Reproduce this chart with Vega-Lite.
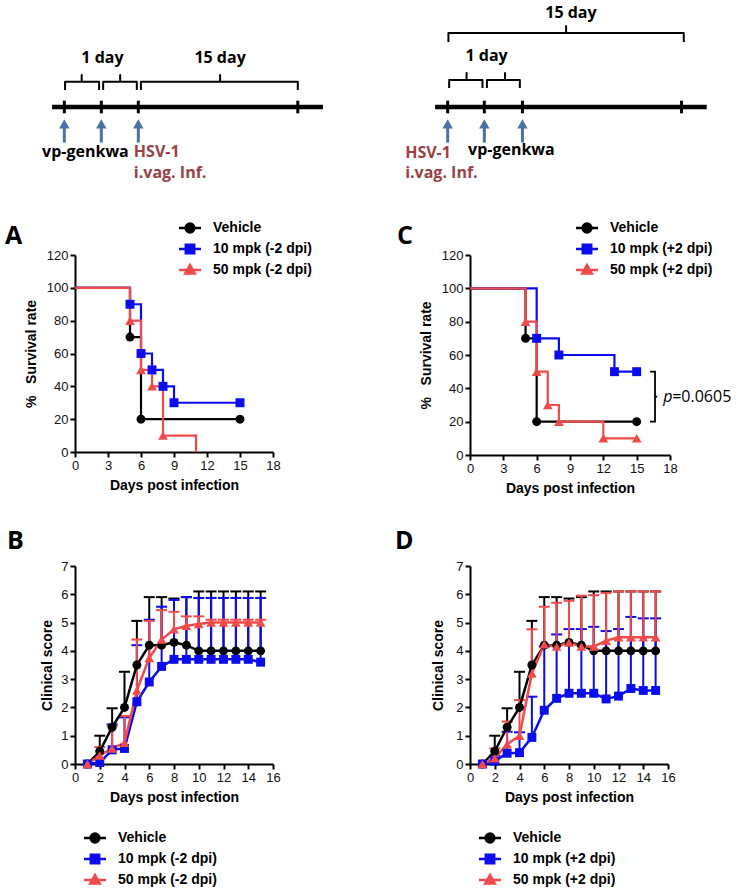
{
"$schema": "https://vega.github.io/schema/vega-lite/v6.json",
"background": "white",
"padding": {"left": 5, "top": 0, "right": 0, "bottom": 0},
"columns": 2,
"spacing": {"row": 111, "column": 197},
"bounds": "flush",
"align": "each",
"resolve": {"scale": {"fill": "independent", "stroke": "independent", "shape": "independent"}, "legend": {"fill": "independent", "stroke": "independent", "shape": "independent"}},
"datasets": {
"tl": [
{"side":"L","k":"main","x":-0.33,"x2":6.99,"y":2.57},
{"side":"L","k":"tick","x":0,"y":2.13,"y2":3.01},
{"side":"L","k":"tick","x":1,"y":2.13,"y2":3.01},
{"side":"L","k":"tick","x":2,"y":2.13,"y2":3.01},
{"side":"L","k":"tick","x":6.31,"y":2.13,"y2":3.01},
{"side":"L","k":"arrow","x":0,"y":0.1,"y2":1.4},
{"side":"L","k":"arrow","x":1,"y":0.1,"y2":1.4},
{"side":"L","k":"arrow","x":2,"y":0.1,"y2":1.4},
{"side":"R","k":"main","x":-0.34,"x2":7.0,"y":2.57},
{"side":"R","k":"tick","x":0,"y":2.13,"y2":3.01},
{"side":"R","k":"tick","x":0.99,"y":2.13,"y2":3.01},
{"side":"R","k":"tick","x":2.02,"y":2.13,"y2":3.01},
{"side":"R","k":"tick","x":6.32,"y":2.13,"y2":3.01},
{"side":"R","k":"arrow","x":0,"y":0.1,"y2":1.4},
{"side":"R","k":"arrow","x":0.99,"y":0.1,"y2":1.4},
{"side":"R","k":"arrow","x":2.02,"y":0.1,"y2":1.4}
],
"br": [
{"side":"L","b":1,"o":1,"x":0.02,"y":3.75},{"side":"L","b":1,"o":2,"x":0.02,"y":4.33},{"side":"L","b":1,"o":3,"x":0.47,"y":4.33},{"side":"L","b":1,"o":4,"x":0.47,"y":4.79},{"side":"L","b":1,"o":5,"x":0.47,"y":4.33},{"side":"L","b":1,"o":6,"x":0.94,"y":4.33},{"side":"L","b":1,"o":7,"x":0.94,"y":3.75},
{"side":"L","b":2,"o":1,"x":1.05,"y":3.75},{"side":"L","b":2,"o":2,"x":1.05,"y":4.33},{"side":"L","b":2,"o":3,"x":1.51,"y":4.33},{"side":"L","b":2,"o":4,"x":1.51,"y":4.79},{"side":"L","b":2,"o":5,"x":1.51,"y":4.33},{"side":"L","b":2,"o":6,"x":1.96,"y":4.33},{"side":"L","b":2,"o":7,"x":1.96,"y":3.75},
{"side":"L","b":3,"o":1,"x":2.07,"y":3.75},{"side":"L","b":3,"o":2,"x":2.07,"y":4.33},{"side":"L","b":3,"o":3,"x":4.21,"y":4.33},{"side":"L","b":3,"o":4,"x":4.21,"y":4.79},{"side":"L","b":3,"o":5,"x":4.21,"y":4.33},{"side":"L","b":3,"o":6,"x":6.31,"y":4.33},{"side":"L","b":3,"o":7,"x":6.31,"y":3.75},
{"side":"R","b":1,"o":1,"x":0.04,"y":3.89},{"side":"R","b":1,"o":2,"x":0.04,"y":4.44},{"side":"R","b":1,"o":3,"x":0.51,"y":4.44},{"side":"R","b":1,"o":4,"x":0.51,"y":4.93},{"side":"R","b":1,"o":5,"x":0.51,"y":4.44},{"side":"R","b":1,"o":6,"x":0.94,"y":4.44},{"side":"R","b":1,"o":7,"x":0.94,"y":3.89},
{"side":"R","b":2,"o":1,"x":1.06,"y":3.89},{"side":"R","b":2,"o":2,"x":1.06,"y":4.44},{"side":"R","b":2,"o":3,"x":1.55,"y":4.44},{"side":"R","b":2,"o":4,"x":1.55,"y":4.93},{"side":"R","b":2,"o":5,"x":1.55,"y":4.44},{"side":"R","b":2,"o":6,"x":1.95,"y":4.44},{"side":"R","b":2,"o":7,"x":1.95,"y":3.89},
{"side":"R","b":3,"o":1,"x":0.02,"y":7.08},{"side":"R","b":3,"o":2,"x":0.02,"y":7.71},{"side":"R","b":3,"o":3,"x":3.2,"y":7.71},{"side":"R","b":3,"o":4,"x":3.2,"y":8.19},{"side":"R","b":3,"o":5,"x":3.2,"y":7.71},{"side":"R","b":3,"o":6,"x":6.38,"y":7.71},{"side":"R","b":3,"o":7,"x":6.38,"y":7.08}
],
"tt": [
{"side":"L","k":"span","t":"1 day","x":1.03,"y":5.97},
{"side":"L","k":"span","t":"15 day","x":4.21,"y":5.97},
{"side":"L","k":"drug","t":"vp-genkwa","x":-0.6,"y":-0.56},
{"side":"L","k":"inf","t":"HSV-1","x":1.88,"y":-0.56},
{"side":"L","k":"inf","t":"i.vag. Inf.","x":1.88,"y":-2.0},
{"side":"R","k":"span","t":"1 day","x":1.05,"y":6.11},
{"side":"R","k":"span","t":"15 day","x":3.33,"y":9.1},
{"side":"R","k":"inf","t":"HSV-1","x":-1.15,"y":-0.6},
{"side":"R","k":"inf","t":"i.vag. Inf.","x":-1.15,"y":-2.0},
{"side":"R","k":"drug","t":"vp-genkwa","x":0.55,"y":-0.45}
],
"surv": [
{"p":"A","g":"Vehicle","d":0,"s":100},{"p":"A","g":"Vehicle","d":5,"s":70},{"p":"A","g":"Vehicle","d":6,"s":20},{"p":"A","g":"Vehicle","d":15,"s":20},
{"p":"A","g":"10 mpk (-2 dpi)","d":0,"s":100},{"p":"A","g":"10 mpk (-2 dpi)","d":5,"s":90},{"p":"A","g":"10 mpk (-2 dpi)","d":6,"s":60},{"p":"A","g":"10 mpk (-2 dpi)","d":7,"s":50},{"p":"A","g":"10 mpk (-2 dpi)","d":8,"s":40},{"p":"A","g":"10 mpk (-2 dpi)","d":9,"s":30},{"p":"A","g":"10 mpk (-2 dpi)","d":15,"s":30},
{"p":"A","g":"50 mpk (-2 dpi)","d":0,"s":100},{"p":"A","g":"50 mpk (-2 dpi)","d":5,"s":80},{"p":"A","g":"50 mpk (-2 dpi)","d":6,"s":50},{"p":"A","g":"50 mpk (-2 dpi)","d":7,"s":40},{"p":"A","g":"50 mpk (-2 dpi)","d":8,"s":10},{"p":"A","g":"50 mpk (-2 dpi)","d":11,"s":0},
{"p":"C","g":"Vehicle","d":0,"s":100},{"p":"C","g":"Vehicle","d":5,"s":70},{"p":"C","g":"Vehicle","d":6,"s":20},{"p":"C","g":"Vehicle","d":15,"s":20},
{"p":"C","g":"10 mpk (+2 dpi)","d":0,"s":100},{"p":"C","g":"10 mpk (+2 dpi)","d":6,"s":70},{"p":"C","g":"10 mpk (+2 dpi)","d":8,"s":60},{"p":"C","g":"10 mpk (+2 dpi)","d":13,"s":50},{"p":"C","g":"10 mpk (+2 dpi)","d":15,"s":50},
{"p":"C","g":"50 mpk (+2 dpi)","d":0,"s":100},{"p":"C","g":"50 mpk (+2 dpi)","d":5,"s":80},{"p":"C","g":"50 mpk (+2 dpi)","d":6,"s":50},{"p":"C","g":"50 mpk (+2 dpi)","d":7,"s":30},{"p":"C","g":"50 mpk (+2 dpi)","d":8,"s":20},{"p":"C","g":"50 mpk (+2 dpi)","d":12,"s":10},{"p":"C","g":"50 mpk (+2 dpi)","d":15,"s":10}
],
"pb": [
{"p":"C","o":1,"d":16.2,"s":50},{"p":"C","o":2,"d":16.65,"s":50},{"p":"C","o":3,"d":16.65,"s":35},{"p":"C","o":4,"d":16.85,"s":35},{"p":"C","o":5,"d":16.65,"s":35},{"p":"C","o":6,"d":16.65,"s":20},{"p":"C","o":7,"d":16.2,"s":20}
],
"pt": [
{"p":"C","k":"it","t":"p","d":17.4,"s":35},
{"p":"C","k":"rm","t":"=0.0605","d":18.2,"s":35}
],
"clin": [
{"p":"B","g":"Vehicle","d":1,"m":0,"hi":0},{"p":"B","g":"Vehicle","d":2,"m":0.45,"hi":1.0},{"p":"B","g":"Vehicle","d":3,"m":1.3,"hi":1.97},{"p":"B","g":"Vehicle","d":4,"m":2.0,"hi":3.26},{"p":"B","g":"Vehicle","d":5,"m":3.5,"hi":5.06},{"p":"B","g":"Vehicle","d":6,"m":4.2,"hi":5.9},{"p":"B","g":"Vehicle","d":7,"m":4.2,"hi":5.9},{"p":"B","g":"Vehicle","d":8,"m":4.3,"hi":5.85},{"p":"B","g":"Vehicle","d":9,"m":4.2,"hi":5.9},{"p":"B","g":"Vehicle","d":10,"m":4.0,"hi":6.1},{"p":"B","g":"Vehicle","d":11,"m":4.0,"hi":6.1},{"p":"B","g":"Vehicle","d":12,"m":4.0,"hi":6.1},{"p":"B","g":"Vehicle","d":13,"m":4.0,"hi":6.1},{"p":"B","g":"Vehicle","d":14,"m":4.0,"hi":6.1},{"p":"B","g":"Vehicle","d":15,"m":4.0,"hi":6.1},
{"p":"B","g":"10 mpk (-2 dpi)","d":1,"m":0,"hi":0},{"p":"B","g":"10 mpk (-2 dpi)","d":2,"m":0.05,"hi":0.2},{"p":"B","g":"10 mpk (-2 dpi)","d":3,"m":0.5,"hi":1.4},{"p":"B","g":"10 mpk (-2 dpi)","d":4,"m":0.55,"hi":1.65},{"p":"B","g":"10 mpk (-2 dpi)","d":5,"m":2.2,"hi":4.2},{"p":"B","g":"10 mpk (-2 dpi)","d":6,"m":2.9,"hi":5.1},{"p":"B","g":"10 mpk (-2 dpi)","d":7,"m":3.45,"hi":5.56},{"p":"B","g":"10 mpk (-2 dpi)","d":8,"m":3.7,"hi":5.8},{"p":"B","g":"10 mpk (-2 dpi)","d":9,"m":3.7,"hi":5.9},{"p":"B","g":"10 mpk (-2 dpi)","d":10,"m":3.7,"hi":5.87},{"p":"B","g":"10 mpk (-2 dpi)","d":11,"m":3.7,"hi":5.87},{"p":"B","g":"10 mpk (-2 dpi)","d":12,"m":3.7,"hi":5.87},{"p":"B","g":"10 mpk (-2 dpi)","d":13,"m":3.7,"hi":5.87},{"p":"B","g":"10 mpk (-2 dpi)","d":14,"m":3.7,"hi":5.87},{"p":"B","g":"10 mpk (-2 dpi)","d":15,"m":3.6,"hi":5.87},
{"p":"B","g":"50 mpk (-2 dpi)","d":1,"m":0,"hi":0},{"p":"B","g":"50 mpk (-2 dpi)","d":2,"m":0.3,"hi":0.6},{"p":"B","g":"50 mpk (-2 dpi)","d":3,"m":0.55,"hi":1.35},{"p":"B","g":"50 mpk (-2 dpi)","d":4,"m":0.75,"hi":1.7},{"p":"B","g":"50 mpk (-2 dpi)","d":5,"m":2.6,"hi":4.4},{"p":"B","g":"50 mpk (-2 dpi)","d":6,"m":3.75,"hi":5.06},{"p":"B","g":"50 mpk (-2 dpi)","d":7,"m":4.4,"hi":5.44},{"p":"B","g":"50 mpk (-2 dpi)","d":8,"m":4.76,"hi":5.38},{"p":"B","g":"50 mpk (-2 dpi)","d":9,"m":4.89,"hi":5.22},{"p":"B","g":"50 mpk (-2 dpi)","d":10,"m":4.95,"hi":5.22},{"p":"B","g":"50 mpk (-2 dpi)","d":11,"m":5.0,"hi":5.1},{"p":"B","g":"50 mpk (-2 dpi)","d":12,"m":5.0,"hi":5.1},{"p":"B","g":"50 mpk (-2 dpi)","d":13,"m":5.0,"hi":5.1},{"p":"B","g":"50 mpk (-2 dpi)","d":14,"m":5.0,"hi":5.1},{"p":"B","g":"50 mpk (-2 dpi)","d":15,"m":5.0,"hi":5.1},
{"p":"D","g":"Vehicle","d":1,"m":0,"hi":0},{"p":"D","g":"Vehicle","d":2,"m":0.45,"hi":1.0},{"p":"D","g":"Vehicle","d":3,"m":1.3,"hi":1.97},{"p":"D","g":"Vehicle","d":4,"m":2.0,"hi":3.26},{"p":"D","g":"Vehicle","d":5,"m":3.5,"hi":5.06},{"p":"D","g":"Vehicle","d":6,"m":4.2,"hi":5.9},{"p":"D","g":"Vehicle","d":7,"m":4.2,"hi":5.9},{"p":"D","g":"Vehicle","d":8,"m":4.3,"hi":5.85},{"p":"D","g":"Vehicle","d":9,"m":4.2,"hi":5.9},{"p":"D","g":"Vehicle","d":10,"m":4.0,"hi":6.1},{"p":"D","g":"Vehicle","d":11,"m":4.0,"hi":6.1},{"p":"D","g":"Vehicle","d":12,"m":4.0,"hi":6.1},{"p":"D","g":"Vehicle","d":13,"m":4.0,"hi":6.1},{"p":"D","g":"Vehicle","d":14,"m":4.0,"hi":6.1},{"p":"D","g":"Vehicle","d":15,"m":4.0,"hi":6.1},
{"p":"D","g":"10 mpk (+2 dpi)","d":1,"m":0,"hi":0},{"p":"D","g":"10 mpk (+2 dpi)","d":2,"m":0.1,"hi":0.3},{"p":"D","g":"10 mpk (+2 dpi)","d":3,"m":0.38,"hi":1.14},{"p":"D","g":"10 mpk (+2 dpi)","d":4,"m":0.4,"hi":1.12},{"p":"D","g":"10 mpk (+2 dpi)","d":5,"m":0.94,"hi":2.38},{"p":"D","g":"10 mpk (+2 dpi)","d":6,"m":1.9,"hi":4.15},{"p":"D","g":"10 mpk (+2 dpi)","d":7,"m":2.32,"hi":4.58},{"p":"D","g":"10 mpk (+2 dpi)","d":8,"m":2.5,"hi":4.77},{"p":"D","g":"10 mpk (+2 dpi)","d":9,"m":2.5,"hi":4.77},{"p":"D","g":"10 mpk (+2 dpi)","d":10,"m":2.5,"hi":4.85},{"p":"D","g":"10 mpk (+2 dpi)","d":11,"m":2.3,"hi":4.7},{"p":"D","g":"10 mpk (+2 dpi)","d":12,"m":2.4,"hi":4.77},{"p":"D","g":"10 mpk (+2 dpi)","d":13,"m":2.67,"hi":5.2},{"p":"D","g":"10 mpk (+2 dpi)","d":14,"m":2.6,"hi":5.15},{"p":"D","g":"10 mpk (+2 dpi)","d":15,"m":2.6,"hi":5.15},
{"p":"D","g":"50 mpk (+2 dpi)","d":1,"m":0,"hi":0},{"p":"D","g":"50 mpk (+2 dpi)","d":2,"m":0.2,"hi":0.55},{"p":"D","g":"50 mpk (+2 dpi)","d":3,"m":0.7,"hi":1.5},{"p":"D","g":"50 mpk (+2 dpi)","d":4,"m":1.0,"hi":2.26},{"p":"D","g":"50 mpk (+2 dpi)","d":5,"m":3.2,"hi":4.76},{"p":"D","g":"50 mpk (+2 dpi)","d":6,"m":4.23,"hi":5.56},{"p":"D","g":"50 mpk (+2 dpi)","d":7,"m":4.15,"hi":5.7},{"p":"D","g":"50 mpk (+2 dpi)","d":8,"m":4.29,"hi":5.77},{"p":"D","g":"50 mpk (+2 dpi)","d":9,"m":4.15,"hi":5.95},{"p":"D","g":"50 mpk (+2 dpi)","d":10,"m":4.15,"hi":5.97},{"p":"D","g":"50 mpk (+2 dpi)","d":11,"m":4.36,"hi":6.05},{"p":"D","g":"50 mpk (+2 dpi)","d":12,"m":4.48,"hi":6.1},{"p":"D","g":"50 mpk (+2 dpi)","d":13,"m":4.48,"hi":6.1},{"p":"D","g":"50 mpk (+2 dpi)","d":14,"m":4.48,"hi":6.1},{"p":"D","g":"50 mpk (+2 dpi)","d":15,"m":4.48,"hi":6.1}
]
},
"concat": [
{
"width": 198, "height": 144,
"data": {"name": "tl"},
"transform": [{"filter": "datum.side=='L'"}],
"encoding": {
"x": {"field": "x", "type": "quantitative", "scale": {"domain": [0.289, 5.64], "nice": false, "zero": false}, "axis": null},
"y": {"field": "y", "type": "quantitative", "scale": {"domain": [0, 10], "nice": false, "zero": false}, "axis": null}
},
"layer": [
{"transform": [{"filter": "datum.k=='main'"}], "mark": {"type": "rule", "color": "#000000", "strokeWidth": 4.5}, "encoding": {"x2": {"field": "x2"}}},
{"transform": [{"filter": "datum.k=='tick'"}], "mark": {"type": "rule", "color": "#000000", "strokeWidth": 3}, "encoding": {"y2": {"field": "y2"}}},
{"transform": [{"filter": "datum.k=='arrow'"}], "mark": {"type": "rule", "color": "#4a71a8", "strokeWidth": 3}, "encoding": {"y2": {"field": "y2"}}},
{"transform": [{"filter": "datum.k=='arrow'"}], "mark": {"type": "point", "shape": "triangle-up", "filled": true, "size": 110, "color": "#4a71a8", "opacity": 1}, "encoding": {"y": {"field": "y2", "type": "quantitative", "scale": {"domain": [0, 10], "nice": false, "zero": false}, "axis": null}}},
{"data": {"name": "br"}, "transform": [{"filter": "datum.side=='L'"}], "mark": {"type": "line", "color": "#000000", "strokeWidth": 2, "strokeJoin": "round"}, "encoding": {"detail": {"field": "b", "type": "nominal"}, "order": {"field": "o", "type": "quantitative"}}},
{"data": {"name": "tt"}, "transform": [{"filter": "datum.side=='L' && datum.k=='span'"}], "mark": {"type": "text", "align": "center", "baseline": "middle", "font": "Open Sans", "fontSize": 16, "fontWeight": "bold", "color": "#000000"}, "encoding": {"text": {"field": "t", "type": "nominal"}}},
{"data": {"name": "tt"}, "transform": [{"filter": "datum.side=='L' && datum.k=='drug'"}], "mark": {"type": "text", "align": "left", "baseline": "middle", "font": "Open Sans", "fontSize": 16, "fontWeight": "bold", "color": "#000000"}, "encoding": {"text": {"field": "t", "type": "nominal"}}},
{"data": {"name": "tt"}, "transform": [{"filter": "datum.side=='L' && datum.k=='inf'"}], "mark": {"type": "text", "align": "left", "baseline": "middle", "font": "Open Sans", "fontSize": 16, "fontWeight": "bold", "color": "#9a4246"}, "encoding": {"text": {"field": "t", "type": "nominal"}}}
]
},
{
"width": 200, "height": 144,
"data": {"name": "tl"},
"transform": [{"filter": "datum.side=='R'"}],
"encoding": {
"x": {"field": "x", "type": "quantitative", "scale": {"domain": [0.603, 6.008], "nice": false, "zero": false}, "axis": null},
"y": {"field": "y", "type": "quantitative", "scale": {"domain": [0, 10], "nice": false, "zero": false}, "axis": null}
},
"layer": [
{"transform": [{"filter": "datum.k=='main'"}], "mark": {"type": "rule", "color": "#000000", "strokeWidth": 4.5}, "encoding": {"x2": {"field": "x2"}}},
{"transform": [{"filter": "datum.k=='tick'"}], "mark": {"type": "rule", "color": "#000000", "strokeWidth": 3}, "encoding": {"y2": {"field": "y2"}}},
{"transform": [{"filter": "datum.k=='arrow'"}], "mark": {"type": "rule", "color": "#4a71a8", "strokeWidth": 3}, "encoding": {"y2": {"field": "y2"}}},
{"transform": [{"filter": "datum.k=='arrow'"}], "mark": {"type": "point", "shape": "triangle-up", "filled": true, "size": 110, "color": "#4a71a8", "opacity": 1}, "encoding": {"y": {"field": "y2", "type": "quantitative", "scale": {"domain": [0, 10], "nice": false, "zero": false}, "axis": null}}},
{"data": {"name": "br"}, "transform": [{"filter": "datum.side=='R'"}], "mark": {"type": "line", "color": "#000000", "strokeWidth": 2, "strokeJoin": "round"}, "encoding": {"detail": {"field": "b", "type": "nominal"}, "order": {"field": "o", "type": "quantitative"}}},
{"data": {"name": "tt"}, "transform": [{"filter": "datum.side=='R' && datum.k=='span'"}], "mark": {"type": "text", "align": "center", "baseline": "middle", "font": "Open Sans", "fontSize": 16, "fontWeight": "bold", "color": "#000000"}, "encoding": {"text": {"field": "t", "type": "nominal"}}},
{"data": {"name": "tt"}, "transform": [{"filter": "datum.side=='R' && datum.k=='drug'"}], "mark": {"type": "text", "align": "left", "baseline": "middle", "font": "Open Sans", "fontSize": 16, "fontWeight": "bold", "color": "#000000"}, "encoding": {"text": {"field": "t", "type": "nominal"}}},
{"data": {"name": "tt"}, "transform": [{"filter": "datum.side=='R' && datum.k=='inf'"}], "mark": {"type": "text", "align": "left", "baseline": "middle", "font": "Open Sans", "fontSize": 16, "fontWeight": "bold", "color": "#9a4246"}, "encoding": {"text": {"field": "t", "type": "nominal"}}}
]
},
{
"width": 198, "height": 197,
"title": {"text": "A", "anchor": "start", "frame": "group", "dx": -70, "dy": 28, "offset": 0, "fontSize": 25, "font": "Open Sans", "fontWeight": "bold", "color": "#000000"},
"data": {"name": "surv"},
"transform": [{"filter": "datum.p=='A'"}],
"encoding": {
"x": {"field": "d", "type": "quantitative", "scale": {"domain": [0, 18], "nice": false, "zero": false}, "axis": {"values": [0, 3, 6, 9, 12, 15, 18], "title": "Days post infection"}},
"y": {"field": "s", "type": "quantitative", "scale": {"domain": [0, 120], "nice": false, "zero": false}, "axis": {"values": [0, 20, 40, 60, 80, 100, 120], "title": "%\u00a0\u00a0\u00a0Survival rate"}}
},
"layer": [
{"transform": [{"filter": "datum.g=='Vehicle'"}], "mark": {"type": "line", "interpolate": "step-after", "color": "#000000", "strokeWidth": 2.2}},
{"transform": [{"filter": "datum.g=='10 mpk (-2 dpi)'"}], "mark": {"type": "line", "interpolate": "step-after", "color": "#0b0bef", "strokeWidth": 2.2}},
{"transform": [{"filter": "datum.g=='50 mpk (-2 dpi)'"}], "mark": {"type": "line", "interpolate": "step-after", "color": "#f24a4a", "strokeWidth": 2.2}},
{"transform": [{"filter": "datum.g=='Vehicle' && datum.d>0 && datum.s>0"}], "mark": {"type": "point", "shape": "circle", "filled": true, "size": 80, "color": "#000000", "opacity": 1}},
{"transform": [{"filter": "datum.g=='10 mpk (-2 dpi)' && datum.d>0 && datum.s>0"}], "mark": {"type": "point", "shape": "square", "filled": true, "size": 80, "color": "#0b0bef", "opacity": 1}},
{"transform": [{"filter": "datum.g=='50 mpk (-2 dpi)' && datum.d>0 && datum.s>0"}], "mark": {"type": "point", "shape": "triangle-up", "filled": true, "size": 95, "color": "#f24a4a", "opacity": 1}},
{"transform": [{"filter": "false"}], "mark": {"type": "point", "filled": true, "opacity": 1},
"encoding": {
"fill": {"field": "g", "type": "nominal", "scale": {"domain": ["Vehicle", "10 mpk (-2 dpi)", "50 mpk (-2 dpi)"], "range": ["#000000", "#0b0bef", "#f24a4a"]}, "legend": {"title": null, "orient": "none", "legendX": 108, "legendY": -34}},
"stroke": {"field": "g", "type": "nominal", "scale": {"domain": ["Vehicle", "10 mpk (-2 dpi)", "50 mpk (-2 dpi)"], "range": ["#000000", "#0b0bef", "#f24a4a"]}, "legend": {"title": null, "orient": "none", "legendX": 108, "legendY": -34}},
"shape": {"field": "g", "type": "nominal", "scale": {"domain": ["Vehicle", "10 mpk (-2 dpi)", "50 mpk (-2 dpi)"], "range": ["M-2.75,0H2.75M1.1,0A1.1,1.1,0,1,1,-1.1,0A1.1,1.1,0,1,1,1.1,0Z", "M-2.75,0H2.75M-1.05,-1.05H1.05V1.05H-1.05Z", "M-2.75,0H2.75M0,-1.25L1.2,0.9H-1.2Z"]}, "legend": {"title": null, "orient": "none", "legendX": 108, "legendY": -34}}
}}
]
},
{
"width": 200, "height": 200,
"title": {"text": "C", "anchor": "start", "frame": "group", "dx": -73, "dy": 28, "offset": 0, "fontSize": 25, "font": "Open Sans", "fontWeight": "bold", "color": "#000000"},
"data": {"name": "surv"},
"transform": [{"filter": "datum.p=='C'"}],
"encoding": {
"x": {"field": "d", "type": "quantitative", "scale": {"domain": [0, 18], "nice": false, "zero": false}, "axis": {"values": [0, 3, 6, 9, 12, 15, 18], "title": "Days post infection"}},
"y": {"field": "s", "type": "quantitative", "scale": {"domain": [0, 120], "nice": false, "zero": false}, "axis": {"values": [0, 20, 40, 60, 80, 100, 120], "title": "%\u00a0\u00a0\u00a0Survival rate"}}
},
"layer": [
{"transform": [{"filter": "datum.g=='Vehicle'"}], "mark": {"type": "line", "interpolate": "step-after", "color": "#000000", "strokeWidth": 2.2}},
{"transform": [{"filter": "datum.g=='10 mpk (+2 dpi)'"}], "mark": {"type": "line", "interpolate": "step-after", "color": "#0b0bef", "strokeWidth": 2.2}},
{"transform": [{"filter": "datum.g=='50 mpk (+2 dpi)'"}], "mark": {"type": "line", "interpolate": "step-after", "color": "#f24a4a", "strokeWidth": 2.2}},
{"transform": [{"filter": "datum.g=='Vehicle' && datum.d>0 && datum.s>0"}], "mark": {"type": "point", "shape": "circle", "filled": true, "size": 80, "color": "#000000", "opacity": 1}},
{"transform": [{"filter": "datum.g=='10 mpk (+2 dpi)' && datum.d>0 && datum.s>0"}], "mark": {"type": "point", "shape": "square", "filled": true, "size": 80, "color": "#0b0bef", "opacity": 1}},
{"transform": [{"filter": "datum.g=='50 mpk (+2 dpi)' && datum.d>0 && datum.s>0"}], "mark": {"type": "point", "shape": "triangle-up", "filled": true, "size": 95, "color": "#f24a4a", "opacity": 1}},
{"data": {"name": "pb"}, "mark": {"type": "line", "color": "#000000", "strokeWidth": 1.8}, "encoding": {"order": {"field": "o", "type": "quantitative"}}},
{"data": {"name": "pt"}, "transform": [{"filter": "datum.k=='it'"}], "mark": {"type": "text", "align": "left", "baseline": "middle", "font": "Open Sans", "fontSize": 16, "fontStyle": "italic", "color": "#000000"}, "encoding": {"text": {"field": "t", "type": "nominal"}}},
{"data": {"name": "pt"}, "transform": [{"filter": "datum.k=='rm'"}], "mark": {"type": "text", "align": "left", "baseline": "middle", "font": "Open Sans", "fontSize": 16, "color": "#000000"}, "encoding": {"text": {"field": "t", "type": "nominal"}}},
{"transform": [{"filter": "false"}], "mark": {"type": "point", "filled": true, "opacity": 1},
"encoding": {
"fill": {"field": "g", "type": "nominal", "scale": {"domain": ["Vehicle", "10 mpk (+2 dpi)", "50 mpk (+2 dpi)"], "range": ["#000000", "#0b0bef", "#f24a4a"]}, "legend": {"title": null, "orient": "none", "legendX": 110, "legendY": -34}},
"stroke": {"field": "g", "type": "nominal", "scale": {"domain": ["Vehicle", "10 mpk (+2 dpi)", "50 mpk (+2 dpi)"], "range": ["#000000", "#0b0bef", "#f24a4a"]}, "legend": {"title": null, "orient": "none", "legendX": 110, "legendY": -34}},
"shape": {"field": "g", "type": "nominal", "scale": {"domain": ["Vehicle", "10 mpk (+2 dpi)", "50 mpk (+2 dpi)"], "range": ["M-2.75,0H2.75M1.1,0A1.1,1.1,0,1,1,-1.1,0A1.1,1.1,0,1,1,1.1,0Z", "M-2.75,0H2.75M-1.05,-1.05H1.05V1.05H-1.05Z", "M-2.75,0H2.75M0,-1.25L1.2,0.9H-1.2Z"]}, "legend": {"title": null, "orient": "none", "legendX": 110, "legendY": -34}}
}}
]
},
{
"width": 198, "height": 198,
"title": {"text": "B", "anchor": "start", "frame": "group", "dx": -68, "dy": -6, "offset": 0, "fontSize": 25, "font": "Open Sans", "fontWeight": "bold", "color": "#000000"},
"data": {"name": "clin"},
"transform": [{"filter": "datum.p=='B'"}],
"encoding": {
"x": {"field": "d", "type": "quantitative", "scale": {"domain": [0, 16], "nice": false, "zero": false}, "axis": {"values": [0, 2, 4, 6, 8, 10, 12, 14, 16], "title": "Days post infection"}},
"y": {"field": "m", "type": "quantitative", "scale": {"domain": [0, 7], "nice": false, "zero": false}, "axis": {"values": [0, 1, 2, 3, 4, 5, 6, 7], "title": "Clinical score", "titlePadding": 6}}
},
"layer": [
{"transform": [{"filter": "datum.g=='Vehicle' && datum.hi>datum.m"}], "mark": {"type": "rule", "color": "#000000", "strokeWidth": 2}, "encoding": {"y2": {"field": "hi"}}},
{"transform": [{"filter": "datum.g=='Vehicle' && datum.hi>datum.m"}], "mark": {"type": "tick", "orient": "horizontal", "color": "#000000", "thickness": 2, "size": 11, "opacity": 1}, "encoding": {"y": {"field": "hi", "type": "quantitative", "scale": {"domain": [0, 7], "nice": false, "zero": false}, "axis": {"values": [0, 1, 2, 3, 4, 5, 6, 7], "title": "Clinical score", "titlePadding": 6}}}},
{"transform": [{"filter": "datum.g=='10 mpk (-2 dpi)' && datum.hi>datum.m"}], "mark": {"type": "rule", "color": "#0b0bef", "strokeWidth": 2}, "encoding": {"y2": {"field": "hi"}}},
{"transform": [{"filter": "datum.g=='10 mpk (-2 dpi)' && datum.hi>datum.m"}], "mark": {"type": "tick", "orient": "horizontal", "color": "#0b0bef", "thickness": 2, "size": 11, "opacity": 1}, "encoding": {"y": {"field": "hi", "type": "quantitative", "scale": {"domain": [0, 7], "nice": false, "zero": false}, "axis": {"values": [0, 1, 2, 3, 4, 5, 6, 7], "title": "Clinical score", "titlePadding": 6}}}},
{"transform": [{"filter": "datum.g=='50 mpk (-2 dpi)' && datum.hi>datum.m"}], "mark": {"type": "rule", "color": "#f24a4a", "strokeWidth": 2}, "encoding": {"y2": {"field": "hi"}}},
{"transform": [{"filter": "datum.g=='50 mpk (-2 dpi)' && datum.hi>datum.m"}], "mark": {"type": "tick", "orient": "horizontal", "color": "#f24a4a", "thickness": 2, "size": 11, "opacity": 1}, "encoding": {"y": {"field": "hi", "type": "quantitative", "scale": {"domain": [0, 7], "nice": false, "zero": false}, "axis": {"values": [0, 1, 2, 3, 4, 5, 6, 7], "title": "Clinical score", "titlePadding": 6}}}},
{"transform": [{"filter": "datum.g=='Vehicle'"}], "mark": {"type": "line", "color": "#000000", "strokeWidth": 2.5}},
{"transform": [{"filter": "datum.g=='10 mpk (-2 dpi)'"}], "mark": {"type": "line", "color": "#0b0bef", "strokeWidth": 2.5}},
{"transform": [{"filter": "datum.g=='50 mpk (-2 dpi)'"}], "mark": {"type": "line", "color": "#f24a4a", "strokeWidth": 2.5}},
{"transform": [{"filter": "datum.g=='Vehicle'"}], "mark": {"type": "point", "shape": "circle", "filled": true, "size": 80, "color": "#000000", "opacity": 1}},
{"transform": [{"filter": "datum.g=='10 mpk (-2 dpi)'"}], "mark": {"type": "point", "shape": "square", "filled": true, "size": 80, "color": "#0b0bef", "opacity": 1}},
{"transform": [{"filter": "datum.g=='50 mpk (-2 dpi)'"}], "mark": {"type": "point", "shape": "triangle-up", "filled": true, "size": 95, "color": "#f24a4a", "opacity": 1}},
{"transform": [{"filter": "false"}], "mark": {"type": "point", "filled": true, "opacity": 1},
"encoding": {
"fill": {"field": "g", "type": "nominal", "scale": {"domain": ["Vehicle", "10 mpk (-2 dpi)", "50 mpk (-2 dpi)"], "range": ["#000000", "#0b0bef", "#f24a4a"]}, "legend": {"title": null, "orient": "none", "legendX": 13, "legendY": 265}},
"stroke": {"field": "g", "type": "nominal", "scale": {"domain": ["Vehicle", "10 mpk (-2 dpi)", "50 mpk (-2 dpi)"], "range": ["#000000", "#0b0bef", "#f24a4a"]}, "legend": {"title": null, "orient": "none", "legendX": 13, "legendY": 265}},
"shape": {"field": "g", "type": "nominal", "scale": {"domain": ["Vehicle", "10 mpk (-2 dpi)", "50 mpk (-2 dpi)"], "range": ["M-2.75,0H2.75M1.1,0A1.1,1.1,0,1,1,-1.1,0A1.1,1.1,0,1,1,1.1,0Z", "M-2.75,0H2.75M-1.05,-1.05H1.05V1.05H-1.05Z", "M-2.75,0H2.75M0,-1.25L1.2,0.9H-1.2Z"]}, "legend": {"title": null, "orient": "none", "legendX": 13, "legendY": 265}}
}}
]
},
{
"width": 198, "height": 198,
"title": {"text": "D", "anchor": "start", "frame": "group", "dx": -75, "dy": -6, "offset": 0, "fontSize": 25, "font": "Open Sans", "fontWeight": "bold", "color": "#000000"},
"data": {"name": "clin"},
"transform": [{"filter": "datum.p=='D'"}],
"encoding": {
"x": {"field": "d", "type": "quantitative", "scale": {"domain": [0, 16], "nice": false, "zero": false}, "axis": {"values": [0, 2, 4, 6, 8, 10, 12, 14, 16], "title": "Days post infection"}},
"y": {"field": "m", "type": "quantitative", "scale": {"domain": [0, 7], "nice": false, "zero": false}, "axis": {"values": [0, 1, 2, 3, 4, 5, 6, 7], "title": "Clinical score", "titlePadding": 10}}
},
"layer": [
{"transform": [{"filter": "datum.g=='Vehicle' && datum.hi>datum.m"}], "mark": {"type": "rule", "color": "#000000", "strokeWidth": 2}, "encoding": {"y2": {"field": "hi"}}},
{"transform": [{"filter": "datum.g=='Vehicle' && datum.hi>datum.m"}], "mark": {"type": "tick", "orient": "horizontal", "color": "#000000", "thickness": 2, "size": 11, "opacity": 1}, "encoding": {"y": {"field": "hi", "type": "quantitative", "scale": {"domain": [0, 7], "nice": false, "zero": false}, "axis": {"values": [0, 1, 2, 3, 4, 5, 6, 7], "title": "Clinical score", "titlePadding": 10}}}},
{"transform": [{"filter": "datum.g=='10 mpk (+2 dpi)' && datum.hi>datum.m"}], "mark": {"type": "rule", "color": "#0b0bef", "strokeWidth": 2}, "encoding": {"y2": {"field": "hi"}}},
{"transform": [{"filter": "datum.g=='10 mpk (+2 dpi)' && datum.hi>datum.m"}], "mark": {"type": "tick", "orient": "horizontal", "color": "#0b0bef", "thickness": 2, "size": 11, "opacity": 1}, "encoding": {"y": {"field": "hi", "type": "quantitative", "scale": {"domain": [0, 7], "nice": false, "zero": false}, "axis": {"values": [0, 1, 2, 3, 4, 5, 6, 7], "title": "Clinical score", "titlePadding": 10}}}},
{"transform": [{"filter": "datum.g=='50 mpk (+2 dpi)' && datum.hi>datum.m"}], "mark": {"type": "rule", "color": "#f24a4a", "strokeWidth": 2}, "encoding": {"y2": {"field": "hi"}}},
{"transform": [{"filter": "datum.g=='50 mpk (+2 dpi)' && datum.hi>datum.m"}], "mark": {"type": "tick", "orient": "horizontal", "color": "#f24a4a", "thickness": 2, "size": 11, "opacity": 1}, "encoding": {"y": {"field": "hi", "type": "quantitative", "scale": {"domain": [0, 7], "nice": false, "zero": false}, "axis": {"values": [0, 1, 2, 3, 4, 5, 6, 7], "title": "Clinical score", "titlePadding": 10}}}},
{"transform": [{"filter": "datum.g=='Vehicle'"}], "mark": {"type": "line", "color": "#000000", "strokeWidth": 2.5}},
{"transform": [{"filter": "datum.g=='10 mpk (+2 dpi)'"}], "mark": {"type": "line", "color": "#0b0bef", "strokeWidth": 2.5}},
{"transform": [{"filter": "datum.g=='50 mpk (+2 dpi)'"}], "mark": {"type": "line", "color": "#f24a4a", "strokeWidth": 2.5}},
{"transform": [{"filter": "datum.g=='Vehicle'"}], "mark": {"type": "point", "shape": "circle", "filled": true, "size": 80, "color": "#000000", "opacity": 1}},
{"transform": [{"filter": "datum.g=='10 mpk (+2 dpi)'"}], "mark": {"type": "point", "shape": "square", "filled": true, "size": 80, "color": "#0b0bef", "opacity": 1}},
{"transform": [{"filter": "datum.g=='50 mpk (+2 dpi)'"}], "mark": {"type": "point", "shape": "triangle-up", "filled": true, "size": 95, "color": "#f24a4a", "opacity": 1}},
{"transform": [{"filter": "false"}], "mark": {"type": "point", "filled": true, "opacity": 1},
"encoding": {
"fill": {"field": "g", "type": "nominal", "scale": {"domain": ["Vehicle", "10 mpk (+2 dpi)", "50 mpk (+2 dpi)"], "range": ["#000000", "#0b0bef", "#f24a4a"]}, "legend": {"title": null, "orient": "none", "legendX": 13, "legendY": 265}},
"stroke": {"field": "g", "type": "nominal", "scale": {"domain": ["Vehicle", "10 mpk (+2 dpi)", "50 mpk (+2 dpi)"], "range": ["#000000", "#0b0bef", "#f24a4a"]}, "legend": {"title": null, "orient": "none", "legendX": 13, "legendY": 265}},
"shape": {"field": "g", "type": "nominal", "scale": {"domain": ["Vehicle", "10 mpk (+2 dpi)", "50 mpk (+2 dpi)"], "range": ["M-2.75,0H2.75M1.1,0A1.1,1.1,0,1,1,-1.1,0A1.1,1.1,0,1,1,1.1,0Z", "M-2.75,0H2.75M-1.05,-1.05H1.05V1.05H-1.05Z", "M-2.75,0H2.75M0,-1.25L1.2,0.9H-1.2Z"]}, "legend": {"title": null, "orient": "none", "legendX": 13, "legendY": 265}}
}}
]
}
],
"config": {
"view": {"stroke": null},
"font": "Liberation Sans",
"axis": {"domainColor": "#000000", "domainWidth": 2, "tickColor": "#000000", "tickWidth": 2, "tickSize": 5, "labelFont": "Liberation Sans", "labelFontSize": 13, "labelColor": "#111111", "labelPadding": 2, "labelFlush": false, "labelOverlap": false, "titleFont": "Liberation Sans", "titleFontSize": 14, "titleFontWeight": "bold", "titleColor": "#000000", "grid": false},
"axisX": {"titlePadding": 6},
"axisY": {"titlePadding": 8},
"legend": {"labelFont": "Liberation Sans", "labelFontSize": 14, "labelFontWeight": "bold", "labelColor": "#000000", "symbolSize": 64, "symbolStrokeWidth": 2.5, "labelOffset": 16, "rowPadding": 1, "padding": 0, "symbolOpacity": 1}
}
}
